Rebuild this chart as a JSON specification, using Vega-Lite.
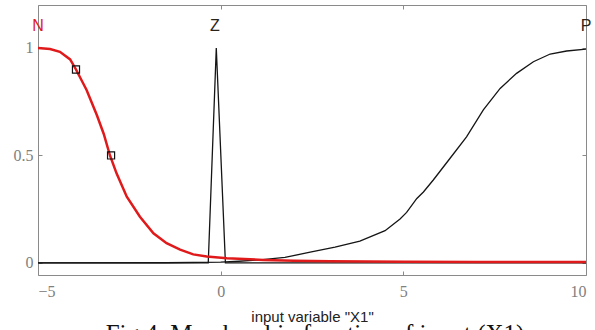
{
  "$schema": "https://vega.github.io/schema/vega-lite/v6.json",
  "width": 548,
  "height": 270,
  "autosize": {"type": "none"},
  "padding": {"left": 38, "top": 5, "right": 9, "bottom": 55},
  "background": "white",
  "title": {
    "text": "Fig.4. Membership function of input (X1)",
    "orient": "bottom",
    "anchor": "middle",
    "baseline": "top",
    "font": "Liberation Serif",
    "fontSize": 25,
    "fontWeight": "normal",
    "color": "#111111",
    "offset": -2,
    "dx": 3
  },
  "config": {
    "view": {"stroke": "#8a8a8a", "strokeWidth": 1},
    "axis": {
      "domain": false,
      "grid": false,
      "tickColor": "#8a8a8a",
      "tickWidth": 1,
      "tickSize": -4,
      "labelColor": "#808080",
      "labelFont": "Liberation Sans Narrow",
      "labelFontSize": 16,
      "titleFont": "Liberation Sans",
      "titleFontSize": 15,
      "titleFontWeight": "normal",
      "titleColor": "#222222"
    }
  },
  "datasets": {
    "mf": [
      {"mf": "N", "x": -5, "y": 1.0},
      {"mf": "N", "x": -4.67, "y": 0.995},
      {"mf": "N", "x": -4.4, "y": 0.982},
      {"mf": "N", "x": -4.12, "y": 0.947},
      {"mf": "N", "x": -3.96, "y": 0.9},
      {"mf": "N", "x": -3.67, "y": 0.805},
      {"mf": "N", "x": -3.39, "y": 0.688},
      {"mf": "N", "x": -3.2, "y": 0.6},
      {"mf": "N", "x": -3.03, "y": 0.5},
      {"mf": "N", "x": -2.85, "y": 0.417},
      {"mf": "N", "x": -2.57, "y": 0.308},
      {"mf": "N", "x": -2.21, "y": 0.215},
      {"mf": "N", "x": -1.84, "y": 0.138},
      {"mf": "N", "x": -1.48, "y": 0.092},
      {"mf": "N", "x": -1.11, "y": 0.062},
      {"mf": "N", "x": -0.75, "y": 0.04},
      {"mf": "N", "x": -0.38, "y": 0.03},
      {"mf": "N", "x": 0.17, "y": 0.022},
      {"mf": "N", "x": 1.17, "y": 0.014},
      {"mf": "N", "x": 2, "y": 0.01},
      {"mf": "N", "x": 3, "y": 0.008},
      {"mf": "N", "x": 5, "y": 0.006},
      {"mf": "N", "x": 7, "y": 0.005},
      {"mf": "N", "x": 10, "y": 0.004},
      {"mf": "Z", "x": -5, "y": 0},
      {"mf": "Z", "x": -0.34, "y": 0},
      {"mf": "Z", "x": -0.12, "y": 1.0},
      {"mf": "Z", "x": 0.13, "y": 0},
      {"mf": "Z", "x": 10, "y": 0},
      {"mf": "P", "x": -5, "y": 0},
      {"mf": "P", "x": -1.5, "y": 0.001},
      {"mf": "P", "x": 0, "y": 0.004},
      {"mf": "P", "x": 0.5, "y": 0.008},
      {"mf": "P", "x": 1.08, "y": 0.014},
      {"mf": "P", "x": 1.76, "y": 0.026},
      {"mf": "P", "x": 2.45, "y": 0.05},
      {"mf": "P", "x": 3.13, "y": 0.074},
      {"mf": "P", "x": 3.81, "y": 0.102},
      {"mf": "P", "x": 4.5, "y": 0.15},
      {"mf": "P", "x": 4.91, "y": 0.205},
      {"mf": "P", "x": 5.09, "y": 0.235},
      {"mf": "P", "x": 5.37, "y": 0.3},
      {"mf": "P", "x": 5.55, "y": 0.33},
      {"mf": "P", "x": 5.82, "y": 0.386},
      {"mf": "P", "x": 6.28, "y": 0.487},
      {"mf": "P", "x": 6.73, "y": 0.587},
      {"mf": "P", "x": 7.19, "y": 0.712},
      {"mf": "P", "x": 7.65, "y": 0.812},
      {"mf": "P", "x": 8.1, "y": 0.882},
      {"mf": "P", "x": 8.56, "y": 0.936},
      {"mf": "P", "x": 9.02, "y": 0.972},
      {"mf": "P", "x": 9.47, "y": 0.986},
      {"mf": "P", "x": 10, "y": 0.995}
    ],
    "markers": [
      {"x": -3.96, "y": 0.9},
      {"x": -3.0, "y": 0.5}
    ],
    "labels": [
      {"label": "N", "x": -5, "y": 1.1},
      {"label": "Z", "x": -0.16, "y": 1.1},
      {"label": "P", "x": 10, "y": 1.1}
    ]
  },
  "resolve": {"scale": {"x": "shared", "y": "shared"}, "axis": {"x": "independent", "y": "independent"}},
  "layer": [
    {
      "data": {"name": "mf"},
      "transform": [{"filter": "datum.mf !== 'N'"}],
      "mark": {"type": "line", "color": "#151515", "strokeWidth": 1.3, "clip": true},
      "encoding": {
        "x": {"field": "x", "type": "quantitative", "scale": {"domain": [-5, 10], "nice": false, "zero": false},
              "axis": {"orient": "bottom", "values": [-5, 0, 5, 10], "title": "input variable \"X1\"", "labelPadding": 12, "titlePadding": 10}},
        "y": {"field": "y", "type": "quantitative", "scale": {"domain": [-0.056, 1.2], "nice": false, "zero": false},
              "axis": {"orient": "left", "values": [0, 0.5, 1], "format": "~g", "title": null, "labelPadding": 9}},
        "detail": {"field": "mf"},
        "order": {"field": "x", "type": "quantitative"}
      }
    },
    {
      "data": {"name": "mf"},
      "transform": [{"filter": "datum.mf === 'N'"}],
      "mark": {"type": "line", "color": "#e01a1a", "strokeWidth": 2.5, "clip": true},
      "encoding": {
        "x": {"field": "x", "type": "quantitative",
              "axis": {"orient": "top", "values": [-5, 0, 5, 10], "labels": false, "title": null}},
        "y": {"field": "y", "type": "quantitative",
              "axis": {"orient": "right", "values": [0, 0.5, 1], "labels": false, "title": null}},
        "order": {"field": "x", "type": "quantitative"}
      }
    },
    {
      "data": {"name": "markers"},
      "mark": {"type": "point", "shape": "square", "filled": false, "stroke": "#111111", "strokeWidth": 1.2, "size": 50, "opacity": 1},
      "encoding": {
        "x": {"field": "x", "type": "quantitative", "axis": null},
        "y": {"field": "y", "type": "quantitative", "axis": null}
      }
    },
    {
      "data": {"name": "labels"},
      "mark": {"type": "text", "font": "Liberation Sans", "fontSize": 16, "baseline": "middle", "align": "center"},
      "encoding": {
        "x": {"field": "x", "type": "quantitative", "axis": null},
        "y": {"field": "y", "type": "quantitative", "axis": null},
        "text": {"field": "label"},
        "color": {"field": "label", "type": "nominal", "scale": {"domain": ["N", "Z", "P"], "range": ["#e02020", "#2a2418", "#2a2418"]}, "legend": null}
      }
    }
  ]
}
